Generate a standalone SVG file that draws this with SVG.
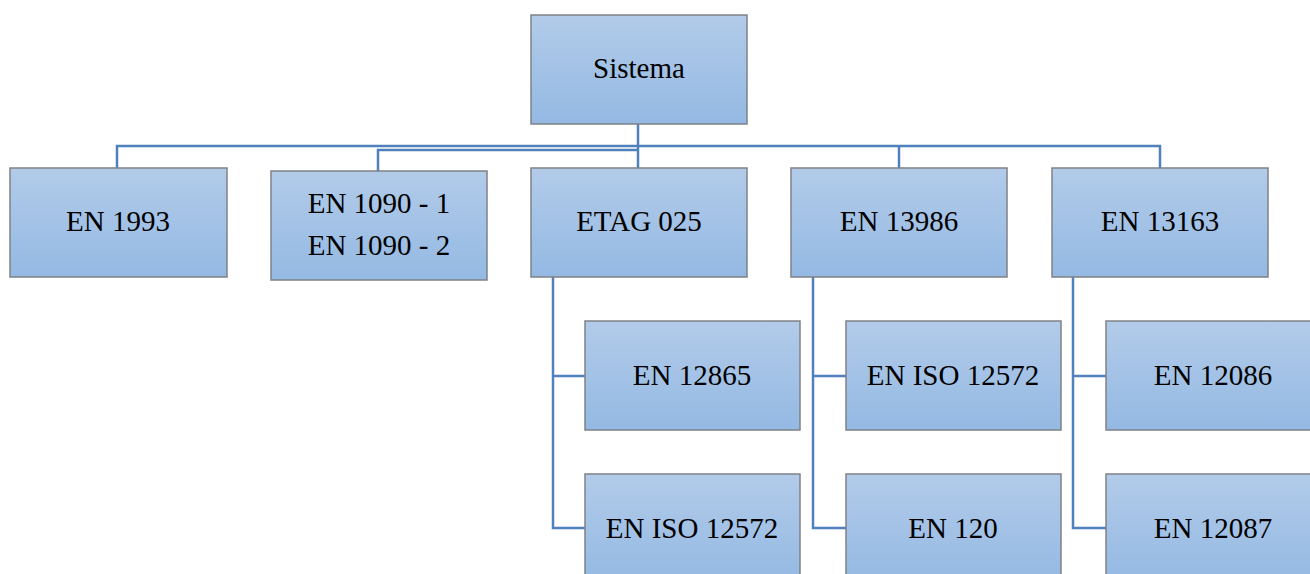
<svg xmlns="http://www.w3.org/2000/svg" width="1310" height="574" viewBox="0 0 1310 574">
  <defs>
    <linearGradient id="boxFill" x1="0" y1="0" x2="0" y2="1">
      <stop offset="0" stop-color="#b2cbe9"/>
      <stop offset="1" stop-color="#94b9e3"/>
    </linearGradient>
    <style>
      .box { fill: url(#boxFill); stroke: #7f8286; stroke-width: 1.5; }
      .lbl { font-family: "Liberation Serif", "Times New Roman", serif; font-size: 29px; fill: #000; text-anchor: middle; }
      .wire { fill: none; stroke: #4f81bd; stroke-width: 2.5; }
    </style>
  </defs>
  <rect width="1310" height="574" fill="#ffffff"/>

  <!-- connectors -->
  <g id="connectors">
    <path class="wire" d="M638,124 V168"/>
    <path class="wire" d="M117,168 V146 H1160 V168"/>
    <path class="wire" d="M378,171 V150 H638"/>
    <path class="wire" d="M899,146 V168"/>
    <path class="wire" d="M553,277 V528 H585 M553,376 H585"/>
    <path class="wire" d="M813,277 V528 H846 M813,376 H846"/>
    <path class="wire" d="M1073,277 V528 H1106 M1073,376 H1106"/>
  </g>

  <!-- root -->
  <g id="sistema">
    <rect class="box" x="531" y="15" width="216" height="109"/>
    <text class="lbl" x="639" y="78">Sistema</text>
  </g>

  <!-- first level -->
  <g id="en1993">
    <rect class="box" x="10" y="168" width="217" height="109"/>
    <text class="lbl" x="118" y="231">EN 1993</text>
  </g>
  <g id="en1090">
    <rect class="box" x="271" y="171" width="216" height="109"/>
    <text class="lbl" x="379" y="213">EN 1090 - 1</text>
    <text class="lbl" x="379" y="255">EN 1090 - 2</text>
  </g>
  <g id="etag025">
    <rect class="box" x="531" y="168" width="216" height="109"/>
    <text class="lbl" x="639" y="231">ETAG 025</text>
  </g>
  <g id="en13986">
    <rect class="box" x="791" y="168" width="216" height="109"/>
    <text class="lbl" x="899" y="231">EN 13986</text>
  </g>
  <g id="en13163">
    <rect class="box" x="1052" y="168" width="216" height="109"/>
    <text class="lbl" x="1160" y="231">EN 13163</text>
  </g>

  <!-- ETAG 025 children -->
  <g id="en12865">
    <rect class="box" x="585" y="321" width="215" height="109"/>
    <text class="lbl" x="692" y="385">EN 12865</text>
  </g>
  <g id="en-iso-12572-a">
    <rect class="box" x="585" y="474" width="215" height="109"/>
    <text class="lbl" x="692" y="538">EN ISO 12572</text>
  </g>

  <!-- EN 13986 children -->
  <g id="en-iso-12572-b">
    <rect class="box" x="846" y="321" width="215" height="109"/>
    <text class="lbl" x="953" y="385">EN ISO 12572</text>
  </g>
  <g id="en120">
    <rect class="box" x="846" y="474" width="215" height="109"/>
    <text class="lbl" x="953" y="538">EN 120</text>
  </g>

  <!-- EN 13163 children -->
  <g id="en12086">
    <rect class="box" x="1106" y="321" width="215" height="109"/>
    <text class="lbl" x="1213" y="385">EN 12086</text>
  </g>
  <g id="en12087">
    <rect class="box" x="1106" y="474" width="215" height="109"/>
    <text class="lbl" x="1213" y="538">EN 12087</text>
  </g>
</svg>
